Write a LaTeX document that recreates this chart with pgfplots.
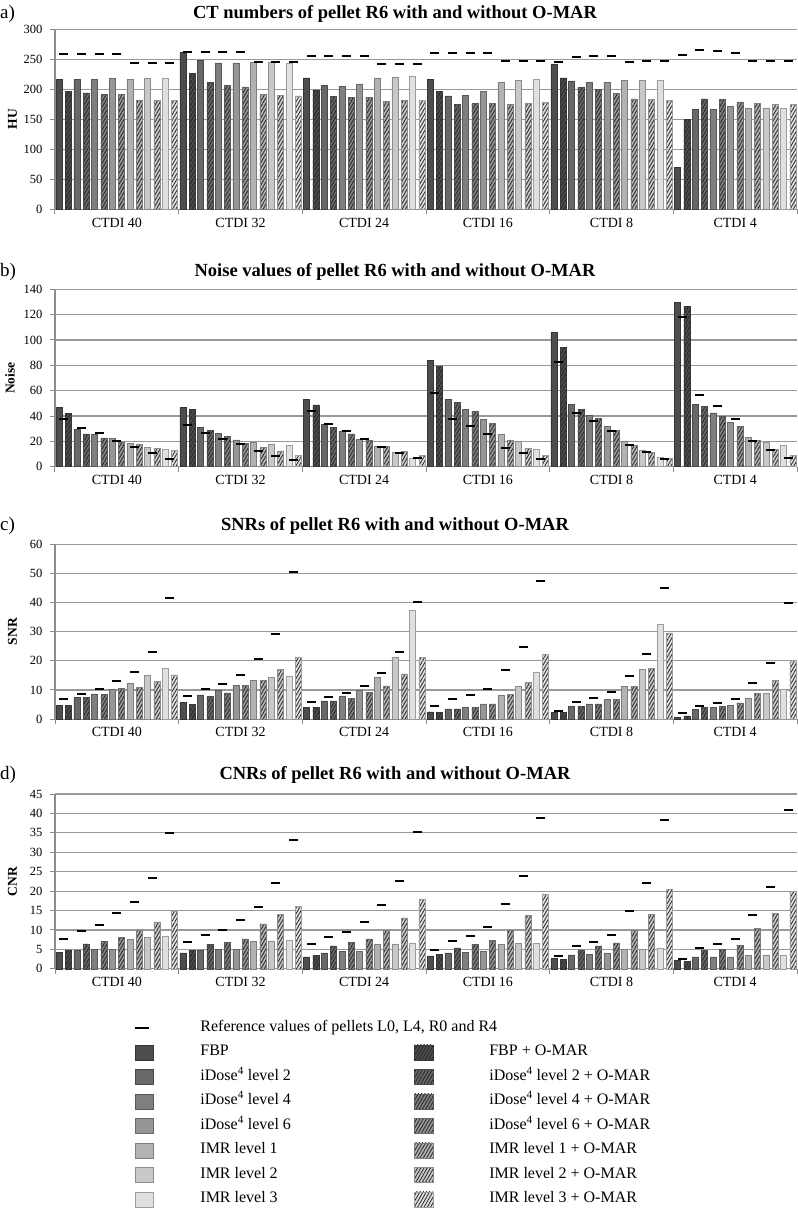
\documentclass[border=0pt]{standalone}
\usepackage{fontspec}
\setmainfont{Liberation Serif}
\usepackage{pgfplots}
\pgfplotsset{compat=1.18}
\usepackage{pgfplotstable}
\usetikzlibrary{patterns.meta}

\definecolor{c0}{HTML}{4D4D4D}
\definecolor{c1}{HTML}{686868}
\definecolor{c2}{HTML}{7F7F7F}
\definecolor{c3}{HTML}{969696}
\definecolor{c4}{HTML}{B2B2B2}
\definecolor{c5}{HTML}{C8C8C8}
\definecolor{c6}{HTML}{E0E0E0}

% rows ordered by level (FBP, iDose2, iDose4, iDose6, IMR1, IMR2, IMR3), 6 CTDI groups each
% x = 7*group + level ; wo = without O-MAR ; w = with O-MAR ; ref = reference value
\pgfplotstableread{
x wo w ref
0 217 196 259
7 262 227 263
14 219 199 255
21 216 197 261
28 242 219 245
35 70 150 258
1 217 194 259
8 248 211 263
15 206 188 255
22 189 175 261
29 214 203 254
36 167 184 265
2 216 192 259
9 244 207 263
16 205 187 255
23 190 177 261
30 211 200 255
37 166 183 264
3 218 191 259
10 244 204 263
17 209 186 255
24 197 176 261
31 212 193 255
38 172 179 261
4 217 181 244
11 245 192 245
18 219 180 243
25 212 175 247
32 215 184 245
39 168 176 247
5 218 181 244
12 245 190 245
19 220 181 243
26 215 176 247
33 215 183 247
40 169 175 247
6 219 181 244
13 243 189 245
20 221 182 243
27 217 178 247
34 215 182 248
41 169 175 247
}\tabA

\pgfplotstableread{
x wo w ref
0 47 42 38
7 46.8 45.3 33
14 53.4 48.7 44
21 83.7 79.5 57.9
28 106 94.2 82.4
35 129.5 126.8 118.4
1 29.7 26 30.8
8 30.8 28.5 26.8
15 33.4 30.9 33.7
22 53.4 50.8 37.6
29 49.2 45.5 42.6
36 49.2 47.9 56.3
2 25.6 22.7 26.3
9 26.5 24 22.2
16 27.6 26 28.4
23 45.5 43.4 32.1
30 40.3 38.2 36
37 42.4 40 48.2
3 22.2 19.5 20.5
10 21.2 18.6 18.1
17 21.8 21 22.2
24 37.6 34.2 25.8
31 31.6 28.4 27.9
38 35 32.1 37.6
4 18.4 17.5 15.8
11 19.6 15.4 12.5
18 15.8 15.8 15.8
25 25.8 21 15
32 20.3 17.1 17.1
39 23.2 20.5 20.5
5 15.3 14.6 11.1
12 17.7 12.5 8.7
19 11.5 12 11.1
26 20.3 14.5 10.5
33 13.2 11.3 11.8
40 19.2 13.7 13.2
6 13.5 12.6 6.4
13 17.1 9.2 5.5
20 6.5 8.8 6.5
27 14 8.7 5.8
34 7.1 6.3 6.3
41 16.8 9.2 6.8
}\tabB

\pgfplotstableread{
x wo w ref
0 4.6 4.7 6.9
7 5.7 5.1 7.9
14 4.1 4.1 5.8
21 2.5 2.4 4.4
28 2.2 2.2 2.9
35 0.6 1.1 2
1 7.5 7.5 8.7
8 8.3 7.8 10.2
15 6.3 6.3 7.5
22 3.5 3.5 6.9
29 4.5 4.5 6
36 3.4 4 4.6
2 8.7 8.6 10.2
9 10 9 12.2
16 7.7 7.1 9
23 4.1 4.1 8.3
30 5.2 5.2 7.1
37 4 4.5 5.4
3 10.3 10.6 13.2
10 11.5 11.5 15.1
17 9.8 9.2 11.4
24 5.2 5.2 10.4
31 6.8 6.8 9.4
38 4.8 5.6 6.9
4 12.4 10.8 16.3
11 13.2 13.3 20.5
18 14.3 11.4 15.8
25 8.3 8.5 16.9
32 11.3 11.3 14.8
39 7.3 8.9 12.3
5 15 12.9 23.2
12 14.3 17.2 29.2
19 21.4 15.5 23.1
26 11.4 12.7 24.6
33 17.2 17.4 22.3
40 8.9 13.3 19.1
6 17.5 15.2 41.5
13 14.8 21.4 50.6
20 37.2 21.2 40.3
27 16.2 22.3 47.4
34 32.6 29.6 45.1
41 10.3 20.1 39.7
}\tabC

\pgfplotstableread{
x wo w ref
0 4.2 4.9 7.8
7 4.1 4.8 6.9
14 3.1 3.4 6.3
21 3.3 3.7 4.9
28 2.7 2.5 3.4
35 2.1 1.9 2.4
1 4.8 6.4 9.7
8 4.7 6.2 8.6
15 4.1 5.9 8.1
22 4.1 5.4 7.2
29 3.6 4.9 5.8
36 3.1 4.8 5.4
2 5 7 11.4
9 5 6.8 10.1
16 4.4 6.8 9.6
23 4.3 6.2 8.5
30 3.8 5.9 6.8
37 3.1 5.1 6.4
3 5.1 8 14.3
10 5 7.7 12.5
17 4.5 7.7 12
24 4.6 7.3 10.7
31 4.1 6.7 8.6
38 3.1 6.1 7.8
4 7.5 10 17.3
11 7 11.6 16
18 6.2 9.8 16.4
25 6.2 9.9 16.8
32 5 9.8 14.9
39 3.5 10.4 13.9
5 8 12.1 23.5
12 7.2 14 22
19 6.4 13.1 22.6
26 6.5 13.7 24
33 5 14 22.1
40 3.6 14.3 21.1
6 8.4 14.9 34.9
13 7.4 16.1 33.2
20 6.7 17.8 35.1
27 6.7 19.3 38.8
34 5.4 20.4 38.3
41 3.6 19.9 40.9
}\tabD

\pgfplotsset{
  panel/.style={
    scale only axis, width=742pt, anchor=south west,
    xmin=-0.5, xmax=41.5, ymin=0,
    axis lines*=left,
    axis line style={black!45, line width=1.1pt},
    ymajorgrids, major grid style={black!40, line width=1.1pt},
    tick align=outside,
    major tick length=5pt, minor tick length=5pt,
    xtick={3,10,17,24,31,38},
    xticklabels={CTDI 40,CTDI 32,CTDI 24,CTDI 16,CTDI 8,CTDI 4},
    major x tick style={draw=none},
    minor xtick={-0.5,6.5,13.5,20.5,27.5,34.5,41.5},
    minor x tick style={black!45, line width=1pt},
    ytick style={black!45, line width=1pt},
    xticklabel style={font=\fontsize{14}{16}\selectfont},
    yticklabel style={font=\fontsize{12.5}{15}\selectfont, xshift=-4pt},
    /pgf/number format/assume math mode=true,
    unbounded coords=discard, filter discard warning=false,
    clip=false,
  },
  barwo/.style={ybar, bar width=0.34, bar shift=-0.26, fill=#1, draw=#1!70!black, line width=0.5pt, forget plot},
  barwi/.style={ybar, bar width=0.34, bar shift=0.26, fill=#1, draw=#1!70!black, line width=0.5pt,
     postaction={pattern={Lines[angle=60,distance=2.8pt,line width=0.8pt]}, pattern color=black!85}, forget plot},
  refm/.style={only marks, mark=-, mark size=4.5pt, mark options={line width=2pt, draw=black}, forget plot},
  legbox/.style={legend image code/.code={\draw[##1] (0pt,-7.5pt) rectangle (18.5pt,7.5pt);}},
}

% #2 = first row index of the level, #3 = one past its last row index
\newcommand\lvl[4]{%
  \addplot[barwo=#4, skip coords between index={0}{#2}, skip coords between index={#3}{42}] table[x=x,y=wo] {#1};
  \addplot[barwi=#4, skip coords between index={0}{#2}, skip coords between index={#3}{42}] table[x=x,y=w] {#1};
}
\newcommand\allbars[1]{%
  \lvl{#1}{0}{6}{c0}\lvl{#1}{6}{12}{c1}\lvl{#1}{12}{18}{c2}\lvl{#1}{18}{24}{c3}%
  \lvl{#1}{24}{30}{c4}\lvl{#1}{30}{36}{c5}\lvl{#1}{36}{42}{c6}%
  \addplot[refm] table[x=x,y=ref] {#1};
}

\newcommand\ttl[3]{%
  \node[anchor=base west, inner sep=0pt, font=\fontsize{19}{22}\selectfont] at (0pt,-#1) {#2};
  \node[anchor=base, inner sep=0pt, font=\bfseries\fontsize{18.5}{22}\selectfont] at (395pt,-#1) {#3};
}

\begin{document}
\begin{tikzpicture}
\useasboundingbox (0,0) rectangle (798pt,-1208pt);

\ttl{18.3pt}{a)}{CT numbers of pellet R6 with and without O-MAR}
\ttl{276.7pt}{b)}{Noise values of pellet R6 with and without O-MAR}
\ttl{530pt}{c)}{SNRs of pellet R6 with and without O-MAR}
\ttl{779pt}{d)}{CNRs of pellet R6 with and without O-MAR}

\node[rotate=90, font=\bfseries\fontsize{13.5}{16}\selectfont] at (12.5pt,-119.3pt) {HU};
\node[rotate=90, font=\bfseries\fontsize{13.5}{16}\selectfont] at (10pt,-378pt) {Noise};
\node[rotate=90, font=\bfseries\fontsize{13.5}{16}\selectfont] at (12.5pt,-631.7pt) {SNR};
\node[rotate=90, font=\bfseries\fontsize{13.5}{16}\selectfont] at (12.5pt,-881.4pt) {CNR};

\begin{axis}[panel, at={(55pt,-209.3pt)}, height=180pt, ymax=300, ytick={0,50,...,300}]
\allbars{\tabA}
\end{axis}

\begin{axis}[panel, at={(55pt,-466.7pt)}, height=177.4pt, ymax=140, ytick={0,20,...,140}]
\allbars{\tabB}
\end{axis}

\begin{axis}[panel, at={(55pt,-719.1pt)}, height=174.8pt, ymax=60, ytick={0,10,...,60}]
\allbars{\tabC}
\end{axis}

\begin{axis}[panel, at={(55pt,-968.8pt)}, height=174.8pt, ymax=45, ytick={0,5,...,45},
  legend columns=2, legend cell align=left,
  legend style={at={(axis description cs:0.1061,-0.2958)}, anchor=north west, draw=none, fill=none,
    inner sep=0pt, outer sep=0pt, row sep=9.1pt, column sep=0pt,
    font=\fontsize{16}{19}\selectfont,
    nodes={inner sep=0pt, text height=11pt, text depth=4pt}}]
\allbars{\tabD}
\addlegendimage{legend image code/.code={\draw[line width=2pt] (0pt,0pt) -- (14pt,0pt);}}
\addlegendentry{\makebox[261pt][l]{\hspace{47pt}\makebox[0pt][l]{Reference values of pellets L0, L4, R0 and R4}}}
\addlegendimage{empty legend}
\addlegendentry{}
\addlegendimage{legbox, fill=c0, draw=c0!70!black}
\addlegendentry{\makebox[261pt][l]{\hspace{47pt}FBP}}
\addlegendimage{legbox, fill=c0, draw=c0!70!black, postaction={pattern={Lines[angle=60,distance=2.8pt,line width=0.8pt]}, pattern color=black!85}}
\addlegendentry{\hspace{56pt}FBP + O-MAR}
\addlegendimage{legbox, fill=c1, draw=c1!70!black}
\addlegendentry{\makebox[261pt][l]{\hspace{47pt}iDose\textsuperscript{4} level 2}}
\addlegendimage{legbox, fill=c1, draw=c1!70!black, postaction={pattern={Lines[angle=60,distance=2.8pt,line width=0.8pt]}, pattern color=black!85}}
\addlegendentry{\hspace{56pt}iDose\textsuperscript{4} level 2 + O-MAR}
\addlegendimage{legbox, fill=c2, draw=c2!70!black}
\addlegendentry{\makebox[261pt][l]{\hspace{47pt}iDose\textsuperscript{4} level 4}}
\addlegendimage{legbox, fill=c2, draw=c2!70!black, postaction={pattern={Lines[angle=60,distance=2.8pt,line width=0.8pt]}, pattern color=black!85}}
\addlegendentry{\hspace{56pt}iDose\textsuperscript{4} level 4 + O-MAR}
\addlegendimage{legbox, fill=c3, draw=c3!70!black}
\addlegendentry{\makebox[261pt][l]{\hspace{47pt}iDose\textsuperscript{4} level 6}}
\addlegendimage{legbox, fill=c3, draw=c3!70!black, postaction={pattern={Lines[angle=60,distance=2.8pt,line width=0.8pt]}, pattern color=black!85}}
\addlegendentry{\hspace{56pt}iDose\textsuperscript{4} level 6 + O-MAR}
\addlegendimage{legbox, fill=c4, draw=c4!70!black}
\addlegendentry{\makebox[261pt][l]{\hspace{47pt}IMR level 1}}
\addlegendimage{legbox, fill=c4, draw=c4!70!black, postaction={pattern={Lines[angle=60,distance=2.8pt,line width=0.8pt]}, pattern color=black!85}}
\addlegendentry{\hspace{56pt}IMR level 1 + O-MAR}
\addlegendimage{legbox, fill=c5, draw=c5!70!black}
\addlegendentry{\makebox[261pt][l]{\hspace{47pt}IMR level 2}}
\addlegendimage{legbox, fill=c5, draw=c5!70!black, postaction={pattern={Lines[angle=60,distance=2.8pt,line width=0.8pt]}, pattern color=black!85}}
\addlegendentry{\hspace{56pt}IMR level 2 + O-MAR}
\addlegendimage{legbox, fill=c6, draw=c6!70!black}
\addlegendentry{\makebox[261pt][l]{\hspace{47pt}IMR level 3}}
\addlegendimage{legbox, fill=c6, draw=c6!70!black, postaction={pattern={Lines[angle=60,distance=2.8pt,line width=0.8pt]}, pattern color=black!85}}
\addlegendentry{\hspace{56pt}IMR level 3 + O-MAR}
\end{axis}
\end{tikzpicture}
\end{document}
